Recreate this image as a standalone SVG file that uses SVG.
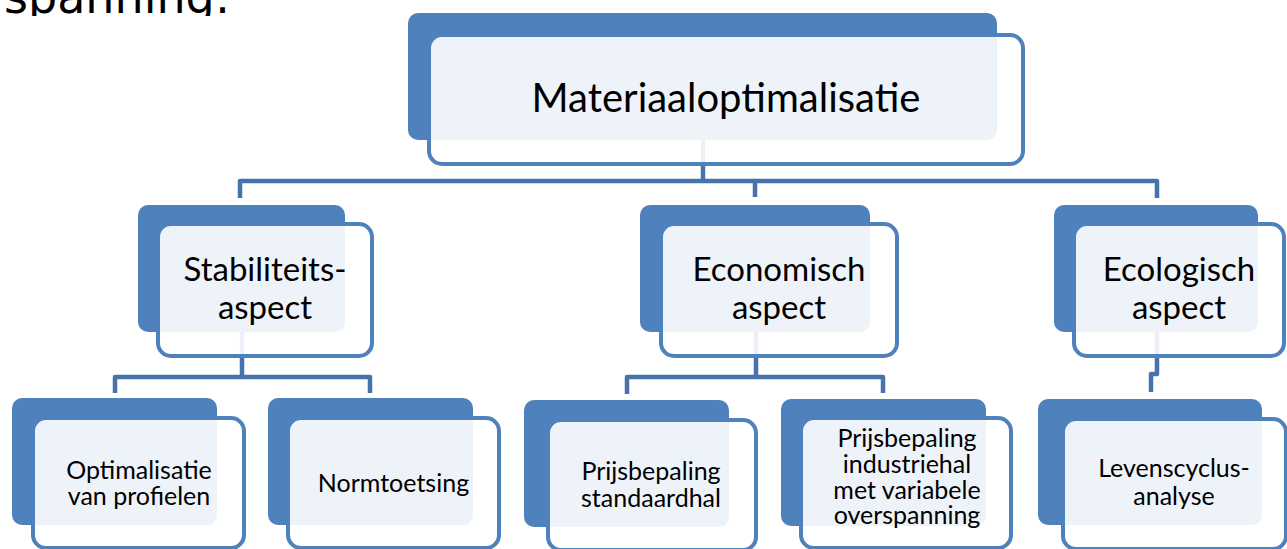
<svg xmlns="http://www.w3.org/2000/svg" width="1287" height="549" viewBox="0 0 1287 549">
<style>
.back{fill:#4F81BD}
.front{fill:#FFFFFF;fill-opacity:0.9;stroke:#4F81BD;stroke-width:4}
.conn{fill:none;stroke:#4673AB;stroke-width:4.5;stroke-linejoin:round}
text{font-family:Lato,"Liberation Sans",sans-serif;fill:#000;text-anchor:middle}
.t0{font-size:40px}
.t1{font-size:33px}
.t2{font-size:25px}
.head{font-family:"DejaVu Sans",sans-serif;font-size:46px;text-anchor:start}
</style>
<defs>
<clipPath id="clipTop"><rect x="0" y="0" width="320" height="16"/></clipPath>
</defs>
<rect width="1287" height="549" fill="#FFFFFF"/>
<text class="head" x="4" y="13" clip-path="url(#clipTop)">spanning:</text>

<g id="connectors">
<path class="conn" d="M703,135 V181 M240,198 V181 H1157 V198 M755,181 V197"/>
<path class="conn" d="M242,330 V377 M115,393 V377 H370 V393"/>
<path class="conn" d="M756,330 V377 M627,394 V377 H883 V393"/>
<path class="conn" d="M1157,330 V374 H1151 V392"/>
</g>

<g id="n-materiaal">
<rect class="back" x="408" y="13" width="589" height="127" rx="10"/>
<rect class="front" x="429" y="35" width="594" height="129" rx="13"/>
<text class="t0" x="726" y="112">Materiaaloptimalisatie</text>
</g>

<g id="n-stabiliteit">
<rect class="back" x="138" y="205" width="207" height="127" rx="10"/>
<rect class="front" x="158" y="224" width="214" height="132" rx="13"/>
<text class="t1" x="265" y="281">Stabiliteits-</text>
<text class="t1" x="265" y="319">aspect</text>
</g>

<g id="n-economisch">
<rect class="back" x="640" y="205" width="230" height="127" rx="10"/>
<rect class="front" x="661" y="224" width="236" height="132" rx="13"/>
<text class="t1" x="779" y="281">Economisch</text>
<text class="t1" x="779" y="319">aspect</text>
</g>

<g id="n-ecologisch">
<rect class="back" x="1054" y="205" width="204" height="127" rx="10"/>
<rect class="front" x="1074" y="224" width="210" height="132" rx="13"/>
<text class="t1" x="1179" y="281">Ecologisch</text>
<text class="t1" x="1179" y="319">aspect</text>
</g>

<g id="n-optimalisatie">
<rect class="back" x="12" y="398" width="205" height="127" rx="10"/>
<rect class="front" x="33" y="418" width="211" height="130" rx="13"/>
<text class="t2" x="139" y="479">Optimalisatie</text>
<text class="t2" x="139" y="505">van profielen</text>
</g>

<g id="n-normtoetsing">
<rect class="back" x="268" y="398" width="205" height="127" rx="10"/>
<rect class="front" x="288" y="418" width="211" height="130" rx="13"/>
<text class="t2" x="393.5" y="492">Normtoetsing</text>
</g>

<g id="n-standaardhal">
<rect class="back" x="524" y="400" width="205" height="127" rx="10"/>
<rect class="front" x="548" y="420" width="208" height="130" rx="13"/>
<text class="t2" x="651" y="480">Prijsbepaling</text>
<text class="t2" x="651" y="507">standaardhal</text>
</g>

<g id="n-industriehal">
<rect class="back" x="781" y="399" width="205" height="127" rx="10"/>
<rect class="front" x="801" y="418" width="210" height="130" rx="13"/>
<text class="t2" x="907" y="447">Prijsbepaling</text>
<text class="t2" x="907" y="473">industriehal</text>
<text class="t2" x="907" y="499">met variabele</text>
<text class="t2" x="907" y="524">overspanning</text>
</g>

<g id="n-levenscyclus">
<rect class="back" x="1038" y="399" width="224" height="126" rx="10"/>
<rect class="front" x="1063" y="419" width="223" height="130" rx="13"/>
<text class="t2" x="1174" y="477">Levenscyclus-</text>
<text class="t2" x="1174" y="505">analyse</text>
</g>
</svg>
